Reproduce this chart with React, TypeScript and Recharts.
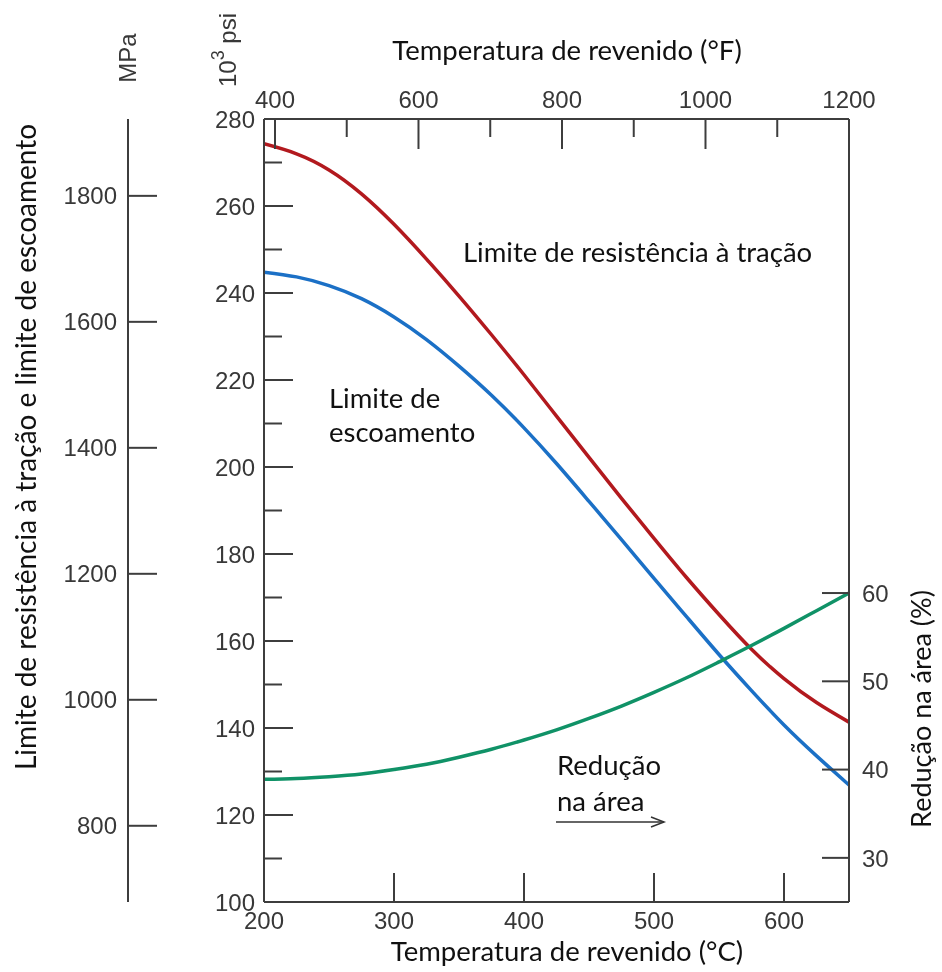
import React from "react";
import { ComposedChart, Line, XAxis, YAxis } from "recharts";

// temperatura de revenido (°C)
const tempC = [200, 225, 250, 275, 300, 325, 350, 375, 400, 425, 450, 475, 500, 525, 550, 575, 600, 625, 650];
// mesma temperatura em °F (eixo superior)
const tempF = [392, 437, 482, 527, 572, 617, 662, 707, 752, 797, 842, 887, 932, 977, 1022, 1067, 1112, 1157, 1202];
// limite de resistência à tração (10^3 psi)
const tensile = [274.3, 272.0, 268.3, 262.8, 255.8, 247.8, 239.3, 230.4, 221.2, 211.7, 202.2, 192.8, 183.6, 174.6, 166.1, 158.1, 151.35, 145.85, 141.35];
// limite de escoamento (10^3 psi)
const yieldStrength = [244.8, 243.7, 241.7, 238.7, 234.5, 229.3, 223.2, 216.5, 209.0, 200.8, 192.1, 183.3, 174.4, 165.6, 156.9, 148.6, 140.7, 133.6, 126.9];
// redução na área (%)
const reduction = [38.9, 39.0, 39.2, 39.5, 40.0, 40.6, 41.4, 42.3, 43.35, 44.5, 45.8, 47.2, 48.75, 50.4, 52.2, 54.05, 56.0, 58.0, 60.0];

const ksiTicks = [100, 110, 120, 130, 140, 150, 160, 170, 180, 190, 200, 210, 220, 230, 240, 250, 260, 270, 280];
const mpaTicks = [800, 1000, 1200, 1400, 1600, 1800];
const pctTicks = [30, 40, 50, 60];
const cTicks = [200, 300, 400, 500, 600];
const fTicks = [400, 500, 600, 700, 800, 900, 1000, 1100, 1200];

const data = tempC.map((t, i) => ({
  t,
  tF: tempF[i],
  tensile: tensile[i],
  yieldStrength: yieldStrength[i],
  reduction: reduction[i],
}));

const AXIS = "#3d3d3d";
const TICK_FONT = "'Liberation Sans', Arial, sans-serif";
const TITLE_FONT = "Lato, 'Open Sans', sans-serif";
const tickText = { fontFamily: TICK_FONT, fontSize: 24, fill: "#383838" };
const titleText = { fontFamily: TITLE_FONT, fontSize: 27.5, fill: "#111" };
const sideTitle = { fontFamily: TITLE_FONT, fontSize: 28, fill: "#111" };

const KsiTick = (props: any) => {
  const { x, y, payload } = props;
  const v = payload.value;
  const major = v % 20 === 0;
  const edge = v === 100 || v === 280;
  return (
    <g>
      {!edge && <line x1={x} y1={y} x2={x + (major ? 29 : 18)} y2={y} stroke={AXIS} strokeWidth={2} />}
      {major && (
        <text x={x - 9} y={y} dy="0.36em" textAnchor="end" {...tickText}>
          {v}
        </text>
      )}
    </g>
  );
};

const MpaTick = (props: any) => {
  const { x, y, payload } = props;
  return (
    <g>
      <line x1={x} y1={y} x2={x + 29} y2={y} stroke={AXIS} strokeWidth={2} />
      <text x={x - 11} y={y} dy="0.36em" textAnchor="end" {...tickText}>
        {payload.value}
      </text>
    </g>
  );
};

const PctTick = (props: any) => {
  const { x, y, payload } = props;
  return (
    <g>
      <line x1={x} y1={y} x2={x - 27} y2={y} stroke={AXIS} strokeWidth={2} />
      <text x={x + 13} y={y} dy="0.36em" textAnchor="start" {...tickText}>
        {payload.value}
      </text>
    </g>
  );
};

const CTick = (props: any) => {
  const { x, y, payload } = props;
  const v = payload.value;
  return (
    <g>
      {v !== 200 && <line x1={x} y1={y} x2={x} y2={y - 29} stroke={AXIS} strokeWidth={2} />}
      <text x={x} y={y + 27} textAnchor="middle" {...tickText}>
        {v}
      </text>
    </g>
  );
};

const FTick = (props: any) => {
  const { x, y, payload } = props;
  const v = payload.value;
  const major = v % 200 === 0;
  return (
    <g>
      <line x1={x} y1={y} x2={x} y2={y + (major ? 30 : 18)} stroke={AXIS} strokeWidth={2} />
      {major && (
        <text x={x} y={y - 11} textAnchor="middle" {...tickText}>
          {v}
        </text>
      )}
    </g>
  );
};

export default function App() {
  return (
    <div style={{ position: "fixed", top: 8, left: 8 }}>
      <ComposedChart
        width={934}
        height={964}
        data={data}
        margin={{ top: 71, right: 33, bottom: 30, left: 40 }}
      >
        <XAxis
          xAxisId="c"
          dataKey="t"
          type="number"
          domain={[200, 650]}
          ticks={cTicks}
          interval={0}
          allowDataOverflow
          height={40}
          tickSize={0}
          tickMargin={0}
          tickLine={false}
          axisLine={{ stroke: AXIS, strokeWidth: 2 }}
          tick={<CTick />}
        />
        <XAxis
          xAxisId="f"
          dataKey="tF"
          orientation="top"
          type="number"
          domain={[384.7, 1200]}
          ticks={fTicks}
          interval={0}
          allowDataOverflow
          height={40}
          tickSize={0}
          tickMargin={0}
          tickLine={false}
          axisLine={{ stroke: AXIS, strokeWidth: 2 }}
          tick={<FTick />}
        />
        <YAxis
          yAxisId="ksi"
          type="number"
          domain={[100, 280]}
          ticks={ksiTicks}
          interval={0}
          allowDataOverflow
          width={136}
          tickSize={0}
          tickMargin={0}
          tickLine={false}
          axisLine={{ stroke: AXIS, strokeWidth: 2 }}
          tick={<KsiTick />}
        />
        <YAxis
          yAxisId="mpa"
          type="number"
          domain={[679, 1922]}
          ticks={mpaTicks}
          interval={0}
          allowDataOverflow
          width={80}
          tickSize={0}
          tickMargin={0}
          tickLine={false}
          axisLine={{ stroke: AXIS, strokeWidth: 2 }}
          tick={<MpaTick />}
        />
        <YAxis
          yAxisId="pct"
          orientation="right"
          type="number"
          domain={[25, 113.7]}
          ticks={pctTicks}
          interval={0}
          allowDataOverflow
          width={60}
          tickSize={0}
          tickMargin={0}
          tickLine={false}
          axisLine={{ stroke: AXIS, strokeWidth: 2 }}
          tick={<PctTick />}
        />

        <Line xAxisId="c" yAxisId="ksi" dataKey="tensile" type="natural" stroke="#b2191e" strokeWidth={3.5} dot={false} isAnimationActive={false} />
        <Line xAxisId="c" yAxisId="ksi" dataKey="yieldStrength" type="natural" stroke="#1b70c6" strokeWidth={3.5} dot={false} isAnimationActive={false} />
        <Line xAxisId="c" yAxisId="pct" dataKey="reduction" type="natural" stroke="#109267" strokeWidth={3.5} dot={false} isAnimationActive={false} />

        {/* títulos dos eixos */}
        <text x={559} y={52} textAnchor="middle" {...titleText}>Temperatura de revenido (°F)</text>
        <text x={559} y={953} textAnchor="middle" {...titleText}>Temperatura de revenido (°C)</text>
        <text x={17} y={439} transform="rotate(-90 17 439)" textAnchor="middle" dominantBaseline="central" {...sideTitle}>
          Limite de resistência à tração e limite de escoamento
        </text>
        <text x={912} y={701} transform="rotate(-90 912 701)" textAnchor="middle" dominantBaseline="central" {...sideTitle} fontSize={27}>
          Redução na área (%)
        </text>
        <text x={119} y={50} transform="rotate(-90 119 50)" textAnchor="middle" dominantBaseline="central" {...tickText}>
          MPa
        </text>
        <text x={219} y={42} transform="rotate(-90 219 42)" textAnchor="middle" dominantBaseline="central" {...tickText}>
          10<tspan dy={-9} fontSize={18}>3</tspan>
          <tspan dy={9}> psi</tspan>
        </text>

        {/* anotações */}
        <text x={455} y={254} {...titleText}>Limite de resistência à tração</text>
        <text x={321} y={400} {...titleText}>Limite de</text>
        <text x={321} y={434} {...titleText}>escoamento</text>
        <text x={549} y={767} {...titleText}>Redução</text>
        <text x={549} y={803} {...titleText}>na área</text>
        <g stroke="#333" strokeWidth={1.5} fill="none">
          <line x1={548} y1={814} x2={656} y2={814} />
          <polyline points="643,809 656,814 643,819" />
        </g>
      </ComposedChart>
    </div>
  );
}
